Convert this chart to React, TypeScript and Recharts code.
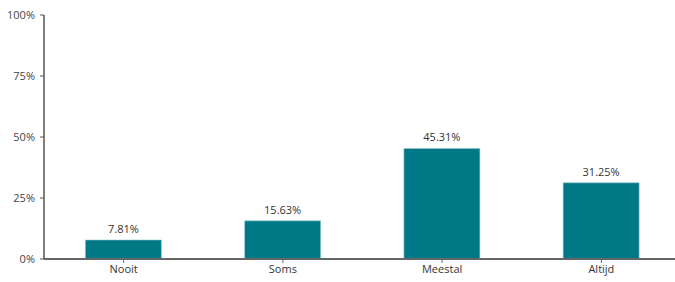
import React from "react";
import { BarChart, Bar, XAxis, YAxis, LabelList } from "recharts";

const categories = ["Nooit", "Soms", "Meestal", "Altijd"];
const values = [7.81, 15.63, 45.31, 31.25];
const yTicks = [0, 25, 50, 75, 100];

const data = categories.map((c, i) => ({ name: c, value: values[i] }));

const font = "'Open Sans', sans-serif";

export default function App() {
  return (
    <div style={{ position: "absolute", left: 0, top: 0, width: 675, height: 282, overflow: "hidden", background: "#fff" }}>
      <BarChart
        width={690}
        height={282}
        data={data}
        margin={{ top: 15, right: 9, bottom: 0, left: 0 }}
        barCategoryGap="26%"
      >
        <XAxis
          dataKey="name"
          height={23}
          axisLine={{ stroke: "#666", strokeWidth: 2 }}
          tickLine={{ stroke: "#666" }}
          tickSize={4}
          tickMargin={2}
          tick={{ fill: "#333", fontSize: 11, fontFamily: font }}
          interval={0}
        />
        <YAxis
          width={44}
          domain={[0, 100]}
          ticks={yTicks}
          tickFormatter={(v: number) => `${v}%`}
          axisLine={{ stroke: "#555", strokeWidth: 1.5 }}
          tickLine={{ stroke: "#555" }}
          tickSize={4}
          tickMargin={5}
          tick={{ fill: "#444", fontSize: 11, fontFamily: font }}
          interval={0}
        />
        <Bar dataKey="value" fill="#007885" stroke="#9cc9cd" strokeWidth={0.6} isAnimationActive={false}>
          <LabelList
            dataKey="value"
            position="top"
            offset={7}
            formatter={(v: number) => `${v.toFixed(2)}%`}
            style={{ fill: "#333", fontSize: 11, fontFamily: font }}
          />
        </Bar>
      </BarChart>
    </div>
  );
}
